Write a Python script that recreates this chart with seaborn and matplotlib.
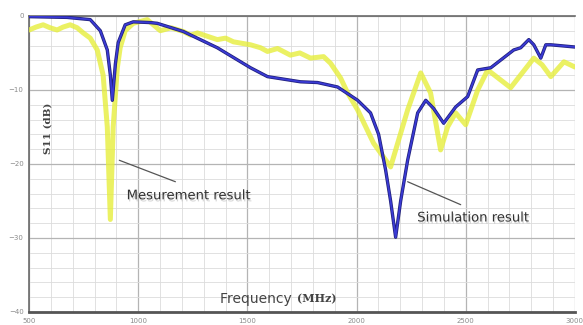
import numpy as np
import pandas as pd
import matplotlib
matplotlib.use("Agg")
import matplotlib.pyplot as plt
import matplotlib.patheffects as pe
from matplotlib.ticker import MultipleLocator
import seaborn as sns

# Simulation result (blue)
sim_freq = [500, 674, 780, 826, 858, 872, 881, 895, 908, 940, 977, 1055, 1087,
            1206, 1362, 1514, 1592, 1743, 1821, 1913, 2005, 2064, 2101, 2133,
            2156, 2179, 2202, 2234, 2280, 2317, 2353, 2399, 2454, 2509, 2555,
            2615, 2720, 2752, 2789, 2812, 2844, 2867, 2890, 3000]
sim_db = [-0.1, -0.2, -0.5, -2.0, -4.6, -8.0, -11.4, -6.5, -3.6, -1.2, -0.8,
          -0.9, -1.0, -2.1, -4.3, -7.0, -8.2, -8.9, -9.0, -9.6, -11.4, -13.1,
          -16.0, -20.8, -25.0, -29.9, -25.0, -19.5, -13.1, -11.4, -12.5, -14.5,
          -12.3, -10.9, -7.3, -7.0, -4.6, -4.3, -3.2, -3.9, -5.7, -3.9, -3.9,
          -4.2]

# Measurement result (yellow)
meas_freq = [500, 532, 564, 596, 628, 656, 688, 720, 748, 780, 812, 839, 858,
             872, 885, 904, 917, 940, 977, 1041, 1101, 1150, 1206, 1240, 1271,
             1362, 1400, 1436, 1514, 1560, 1592, 1638, 1697, 1740, 1789, 1849,
             1881, 1927, 1959, 2005, 2078, 2156, 2234, 2294, 2339, 2385, 2417,
             2454, 2500, 2555, 2601, 2706, 2812, 2850, 2890, 2950, 3000]
meas_db = [-1.9, -1.5, -1.2, -1.6, -1.9, -1.5, -1.2, -1.6, -2.3, -3.0, -4.6,
           -8.0, -15.0, -27.5, -15.0, -7.0, -4.3, -2.0, -1.0, -0.5, -2.0, -1.6,
           -2.1, -2.6, -2.3, -3.2, -3.0, -3.5, -3.9, -4.3, -4.8, -4.4, -5.3,
           -5.0, -5.7, -5.5, -6.4, -8.4, -10.4, -12.7, -17.2, -20.4, -12.7,
           -7.7, -10.4, -18.1, -15.0, -13.1, -14.7, -10.0, -7.3, -9.7, -5.7,
           -6.6, -8.2, -6.2, -6.9]

sim = pd.DataFrame({"freq": sim_freq, "s11": sim_db})
meas = pd.DataFrame({"freq": meas_freq, "s11": meas_db})

sns.set_style("white")
plt.rcParams["font.family"] = ["DejaVu Sans"]

fig = plt.figure(figsize=(5.83, 3.25), dpi=100)
ax = fig.add_axes([0.05, 0.04, 0.936, 0.911])

sns.lineplot(data=meas, x="freq", y="s11", ax=ax, color="#e6ee3c",
             linewidth=3.6, alpha=0.8, zorder=3)
sns.lineplot(data=sim, x="freq", y="s11", ax=ax, color="#3a3ad4",
             linewidth=1.3, zorder=4,
             path_effects=[pe.Stroke(linewidth=2.4, foreground="#20207a"),
                           pe.Normal()])

ax.set_xlim(500, 3000)
ax.set_ylim(-40, 0)
ax.xaxis.set_major_locator(MultipleLocator(500))
ax.xaxis.set_minor_locator(MultipleLocator(100))
ax.yaxis.set_major_locator(MultipleLocator(10))
ax.yaxis.set_minor_locator(MultipleLocator(2))
ax.grid(which="minor", color="#dcdcdc", linewidth=0.6)
ax.grid(which="major", color="#b4b4b4", linewidth=0.9)
ax.set_axisbelow(True)

ax.spines["right"].set_visible(False)
ax.spines["top"].set_color("#6a6a6a")
ax.spines["top"].set_linewidth(1.2)
ax.spines["left"].set_color("#6a6a6a")
ax.spines["left"].set_linewidth(1.2)
ax.spines["bottom"].set_color("#555555")
ax.spines["bottom"].set_linewidth(2.0)

ax.tick_params(axis="both", which="major", labelsize=5, labelcolor="#8a8a8a",
               length=3, color="#888888", pad=1)
ax.tick_params(axis="both", which="minor", length=0)
ax.set_xlabel("")
ax.set_ylabel("")

# axis titles drawn inside the plot area
ax.text(0.034, 0.62, "S11 (dB)", transform=ax.transAxes, rotation=90,
        ha="center", va="center", fontsize=7.5, fontweight="bold",
        family="DejaVu Serif", color="#444444")
ax.text(0.49, 0.045, "Frequency ", transform=ax.transAxes, ha="right",
        va="center", fontsize=10, color="#444444")
ax.text(0.49, 0.045, "(MHz)", transform=ax.transAxes, ha="left",
        va="center", fontsize=8, fontweight="bold", family="DejaVu Serif",
        color="#444444")

shadow = [pe.withSimplePatchShadow(offset=(0.8, -1.5), shadow_rgbFace="#bbbbbb",
                                   alpha=0.6)]
ax.plot([913, 1170], [-19.5, -22.4], color="#555555", linewidth=0.9, zorder=5)
ax.text(1234, -24.3, "Mesurement result", ha="center", va="center",
        fontsize=9.5, color="#333333", zorder=6, path_effects=shadow)
ax.plot([2234, 2477], [-22.4, -25.5], color="#555555", linewidth=0.9, zorder=5)
ax.text(2537, -27.3, "Simulation result", ha="center", va="center",
        fontsize=9.5, color="#333333", zorder=6, path_effects=shadow)

fig.savefig("out.png", dpi=100, facecolor="white")
